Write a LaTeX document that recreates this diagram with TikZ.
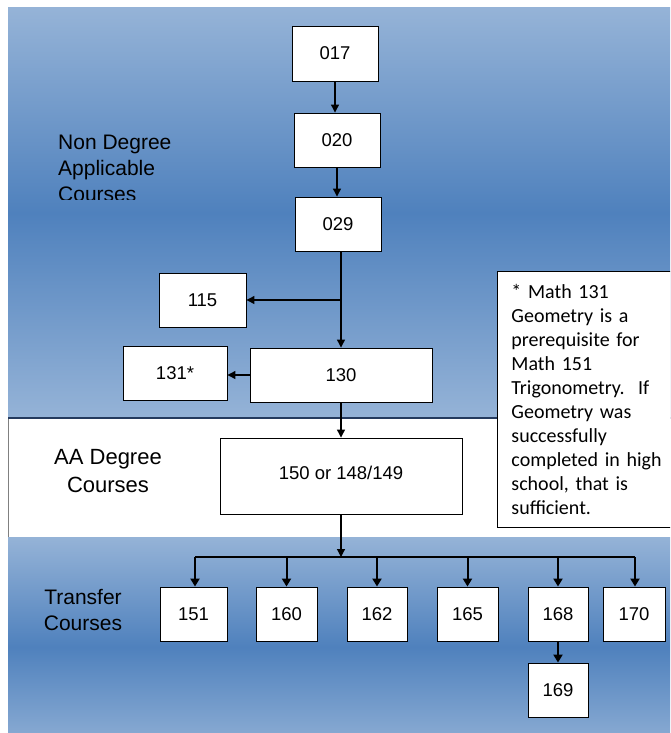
\documentclass[tikz,border=0pt]{standalone}
\usepackage{fontspec}
\setmainfont{Liberation Sans}
\newfontfamily\notefont{Carlito}
\usetikzlibrary{arrows.meta}
\definecolor{bandlight}{RGB}{149,179,215}
\definecolor{banddark}{RGB}{79,129,189}
\definecolor{bandline}{RGB}{36,58,94}
\begin{document}
\begin{tikzpicture}[x=1pt,y=-1pt,
  box/.style={draw=black, line width=0.9pt, fill=white, inner sep=0pt, font=\fontsize{18.5}{20}\selectfont},
  arr/.style={line width=1.2pt, -{Triangle[length=8pt,width=8pt]}},
  busarr/.style={line width=2pt, -{Triangle[length=8pt,width=9pt]}},
  band/.style={top color=bandlight, bottom color=bandlight, middle color=banddark},
  lbl/.style={inner sep=0pt, font=\fontsize{21}{26}\selectfont},
  lblb/.style={inner sep=0pt, align=center, font=\fontsize{22}{28}\selectfont},
  notebox/.style={draw=black, line width=0.9pt, fill=white, anchor=north west, text width=160pt, inner xsep=14pt, inner ysep=0pt, minimum height=256pt, align=left, font=\notefont\fontsize{20}{24}\selectfont}]
\useasboundingbox (0,0) rectangle (670,733);
\clip (0,0) rectangle (670,733);
% bands
\shade[band] (8,8) rectangle (690,418);
\fill[white] (8,418) rectangle (690,537);
\draw[gray, line width=0.8pt] (8,418) -- (8,537);
\shade[band] (8,537) rectangle (690,757);
\draw[bandline, line width=2.5pt] (8,418) -- (690,418);
% labels
\begin{scope}
  \clip (0,0) rectangle (300,199);
  \node[lbl, align=left, anchor=north west] (lnon) at (58,134.5) {Non Degree\\Applicable\\Courses};
\end{scope}
\node[lblb] (laa) at (108,471) {AA Degree\\Courses};
\node[lbl, align=center] (ltr) at (83,609.5) {Transfer\\Courses};
% boxes
\node[box, minimum width=86pt, minimum height=55pt] (n017) at (335,53.5) {017};
\node[box, minimum width=86pt, minimum height=54pt] (n020) at (337,140) {020};
\node[box, minimum width=86pt, minimum height=54pt] (n029) at (338,224) {029};
\node[box, minimum width=87pt, minimum height=54pt] (n115) at (202.5,300) {115};
\node[box, minimum width=182pt, minimum height=54pt] (n130) at (341,375) {130};
\node[box, minimum width=104pt, minimum height=54pt] (n131) at (175,373) {131*};
\node[box, minimum width=242pt, minimum height=76pt] (n150) at (341,476) {\raisebox{6pt}{150 or 148/149}};
\node[box, minimum width=67pt, minimum height=54pt] (n151) at (193.5,614) {151};
\node[box, minimum width=61pt, minimum height=54pt] (n160) at (286.5,614) {160};
\node[box, minimum width=60pt, minimum height=54pt] (n162) at (377,614) {162};
\node[box, minimum width=61pt, minimum height=54pt] (n165) at (467.5,614) {165};
\node[box, minimum width=60pt, minimum height=54pt] (n168) at (558,614) {168};
\node[box, minimum width=62pt, minimum height=54pt] (n170) at (634,614) {170};
\node[box, minimum width=60pt, minimum height=54pt] (n169) at (558,690) {169};
% note
\node[notebox] (note) at (497,271) {* Math 131\\Geometry is a\\prerequisite for\\Math 151\\Trigonometry.\ \ If\\Geometry was\\successfully\\completed in high\\school, that is\\sufficient.};
% connectors
\draw[arr] (n017.south) -- (n017.south |- n020.north);
\draw[arr] (n020.south) -- (n020.south |- n029.north);
\draw[arr] (n130.north |- n029.south) -- (n130.north);
\draw[arr] (n115.east -| n130.north) -- (n115.east);
\draw[arr] (n130.west) -- (n130.west -| n131.east);
\draw[arr] (n130.south) -- (n130.south |- n150.north);
\coordinate (busL) at (195,557);
\coordinate (busR) at (635,557);
\draw[line width=2pt] (busL) -- (busR);
\draw[arr] (n150.south) -- (n150.south |- busL);
\draw[busarr] (busL) -- (busL |- n151.north);
\draw[busarr] (n160.north |- busL) -- (n160.north);
\draw[busarr] (n162.north |- busL) -- (n162.north);
\draw[busarr] (n165.north |- busL) -- (n165.north);
\draw[busarr] (n168.north |- busL) -- (n168.north);
\draw[busarr] (busR) -- (busR |- n170.north);
\draw[busarr] (n168.south) -- (n169.north);
\end{tikzpicture}
\end{document}
